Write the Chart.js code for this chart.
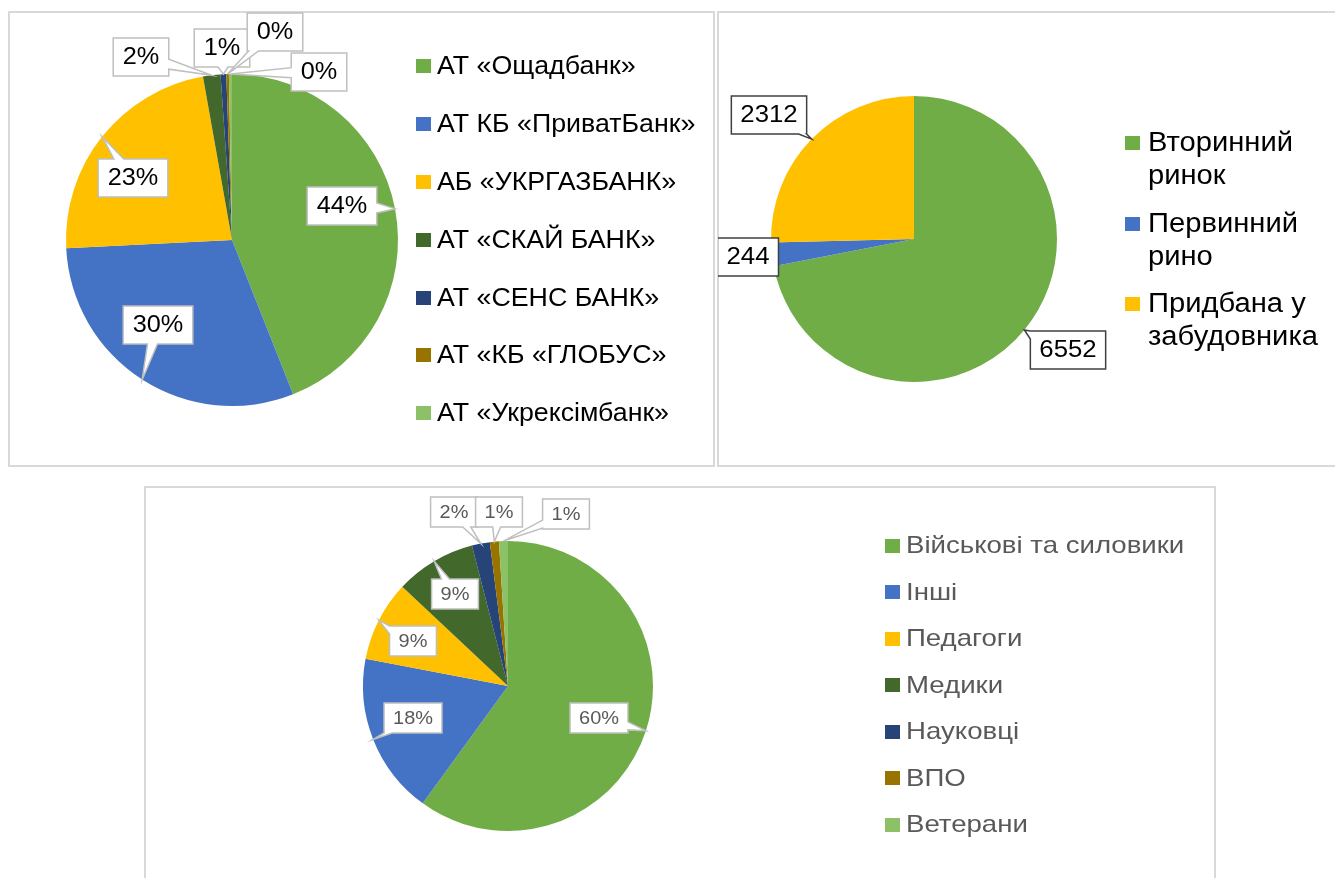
<!DOCTYPE html>
<html lang="uk">
<head>
<meta charset="utf-8">
<title>Три кругові діаграми</title>
<script src="https://cdn.jsdelivr.net/npm/chart.js@4.4.1/dist/chart.umd.min.js"></script>
<style>
  html, body { margin: 0; padding: 0; background: #fff; }
  body { width: 1335px; height: 878px; overflow: hidden; position: relative;
         font-family: Arial, 'Liberation Sans', sans-serif; }
  .panel { position: absolute; box-sizing: border-box; border: 2px solid #d9d9d9; }
  canvas { position: absolute; }
  .legend { position: absolute; white-space: nowrap; }
  .legend .row { position: relative; }
  .legend .key { position: absolute; left: 0; width: 15px; height: 14px; }
  .legend .txt { display: inline-block; vertical-align: top; transform-origin: 0 0; }
</style>
</head>
<body>

<div class="panel" style="left:8px;top:11px;width:707px;height:456px"></div>
<div class="panel" style="left:717px;top:11px;width:640px;height:456px"></div>
<div class="panel" style="left:144px;top:486px;width:1072px;height:420px"></div>

<canvas id="banks"></canvas>
<canvas id="market"></canvas>
<canvas id="groups"></canvas>

<div class="legend" id="banksLegend"></div>
<div class="legend" id="marketLegend"></div>
<div class="legend" id="groupsLegend"></div>

<script>
'use strict';

/* ── Дані ── */
const bankLabels = ['АТ «Ощадбанк»', 'АТ КБ «ПриватБанк»', 'АБ «УКРГАЗБАНК»', 'АТ «СКАЙ БАНК»',
                    'АТ «СЕНС БАНК»', 'АТ «КБ «ГЛОБУС»', 'АТ «Укрексімбанк»'];
const bankShares = [44.0, 30.2, 23.0, 1.7, 0.55, 0.25, 0.3];

const marketLabels = ['Вторинний ринок', 'Первинний рино', 'Придбана у забудовника'];
const marketValues = [6552, 244, 2312];

const groupLabels = ['Військові та силовики', 'Інші', 'Педагоги', 'Медики', 'Науковці', 'ВПО', 'Ветерани'];
const groupShares = [60, 18, 9, 9, 2, 1, 1];

const PALETTE = ['#70AD47', '#4472C4', '#FFC000', '#43682B', '#264478', '#997300', '#8CC168'];

/* ── Розмітка (центр і радіус круга, зсуви виносок від центру) ── */
const LAYOUT = {
  banks:  { box: [9, 12, 704, 453],  cx: 232, cy: 240, r: 166 },
  market: { box: [718, 12, 617, 453], cx: 914, cy: 239, r: 143 },
  groups: { box: [145, 487, 1069, 391], cx: 508, cy: 686, r: 145 }
};

const FONT = "Arial, 'Liberation Sans', sans-serif";
const pct = (v, total) => Math.round(v / total * 100) + '%';

/* ── Виноски-підписи у стилі Excel ── */
function calloutPath(ctx, L, T, R, B, ax, ay, base) {
  const cx = (L + R) / 2, cy = (T + B) / 2, hw = (R - L) / 2, hh = (B - T) / 2;
  const dx = ax - cx, dy = ay - cy;
  const clamp = (v, lo, hi) => Math.max(lo, Math.min(hi, v));
  let side = null;
  if (Math.abs(dx) > hw || Math.abs(dy) > hh) {
    side = Math.abs(dx) / hw > Math.abs(dy) / hh ? (dx > 0 ? 'R' : 'L') : (dy > 0 ? 'B' : 'T');
  }
  const b = base / 2;
  ctx.beginPath();
  ctx.moveTo(L, T);
  if (side === 'T') {
    const ix = clamp(cx + dx * hh / Math.abs(dy), L + b, R - b);
    ctx.lineTo(ix - b, T); ctx.lineTo(ax, ay); ctx.lineTo(ix + b, T);
  }
  ctx.lineTo(R, T);
  if (side === 'R') {
    const iy = clamp(cy + dy * hw / Math.abs(dx), T + b, B - b);
    ctx.lineTo(R, iy - b); ctx.lineTo(ax, ay); ctx.lineTo(R, iy + b);
  }
  ctx.lineTo(R, B);
  if (side === 'B') {
    const ix = clamp(cx + dx * hh / Math.abs(dy), L + b, R - b);
    ctx.lineTo(ix + b, B); ctx.lineTo(ax, ay); ctx.lineTo(ix - b, B);
  }
  ctx.lineTo(L, B);
  if (side === 'L') {
    const iy = clamp(cy + dy * hw / Math.abs(dx), T + b, B - b);
    ctx.lineTo(L, iy + b); ctx.lineTo(ax, ay); ctx.lineTo(L, iy - b);
  }
  ctx.closePath();
}

const calloutPlugin = {
  id: 'callouts',
  afterDatasetsDraw(chart, args, o) {
    const ctx = chart.ctx;
    const values = chart.data.datasets[0].data;
    const total = values.reduce((s, v) => s + v, 0);
    ctx.save();
    ctx.font = o.font;
    ctx.textAlign = 'center';
    ctx.textBaseline = 'middle';
    chart.getDatasetMeta(0).data.forEach((arc, i) => {
      const p = arc.getProps(['x', 'y', 'startAngle', 'endAngle', 'outerRadius'], true);
      const mid = (p.startAngle + p.endAngle) / 2;
      const ax = p.x + Math.cos(mid) * p.outerRadius;
      const ay = p.y + Math.sin(mid) * p.outerRadius;
      const text = o.format(values[i], total);
      const w = ctx.measureText(text).width * o.scaleX + 2 * o.padX;
      const bx = p.x + o.offsets[i][0], by = p.y + o.offsets[i][1];
      calloutPath(ctx, bx - w / 2, by - o.height / 2, bx + w / 2, by + o.height / 2, ax, ay, o.tail);
      ctx.fillStyle = '#fff';
      ctx.fill();
      ctx.lineWidth = o.lineWidth;
      ctx.strokeStyle = o.border;
      ctx.stroke();
      ctx.save();
      ctx.translate(bx, by + 1);
      ctx.scale(o.scaleX, 1);
      ctx.fillStyle = o.color;
      ctx.fillText(text, 0, 0);
      ctx.restore();
    });
    ctx.restore();
  }
};

function makePie(id, labels, values, colors, callouts) {
  const cfg = LAYOUT[id];
  const [x0, y0, w, h] = cfg.box;
  const canvas = document.getElementById(id);
  canvas.width = w;
  canvas.height = h;
  canvas.style.left = x0 + 'px';
  canvas.style.top = y0 + 'px';
  const cx = cfg.cx - x0, cy = cfg.cy - y0, r = cfg.r;

  return new Chart(canvas, {
    type: 'pie',
    data: {
      labels,
      datasets: [{
        data: values,
        backgroundColor: colors,
        borderWidth: 0,
        hoverOffset: 0,
        offset: 0
      }]
    },
    options: {
      responsive: false,
      animation: false,
      devicePixelRatio: 1,
      layout: { padding: { left: cx - r, top: cy - r, right: w - cx - r, bottom: h - cy - r } },
      plugins: {
        legend: { display: false },
        tooltip: { enabled: false },
        callouts
      }
    },
    plugins: [calloutPlugin]
  });
}

/* ── HTML-легенди ── */
function renderLegend(elId, labels, colors, opt) {
  const el = document.getElementById(elId);
  el.style.left = opt.x + 'px';
  el.style.top = opt.y + 'px';
  el.style.font = opt.font;
  el.style.color = opt.color;
  labels.forEach((lab, i) => {
    const row = document.createElement('div');
    row.className = 'row';
    row.style.height = opt.rowH + 'px';
    row.style.lineHeight = opt.lineH + 'px';
    row.style.paddingLeft = opt.textX + 'px';
    const key = document.createElement('span');
    key.className = 'key';
    key.style.background = colors[i];
    key.style.top = opt.keyY + 'px';
    const txt = document.createElement('span');
    txt.className = 'txt';
    txt.style.transform = 'scaleX(' + opt.scaleX + ')';
    if (opt.wrap) { txt.style.whiteSpace = 'normal'; txt.style.width = opt.wrap + 'px'; }
    txt.textContent = lab;
    row.appendChild(key);
    row.appendChild(txt);
    el.appendChild(row);
  });
}

Chart.defaults.font.family = FONT;

makePie('banks', bankLabels, bankShares, PALETTE, {
  font: '23px ' + FONT, color: '#000', border: '#bfbfbf', scaleX: 1.1,
  lineWidth: 1.5, padX: 9.5, height: 38, tail: 10, format: pct,
  offsets: [[110, -34], [-74, 85], [-99, -62], [-91, -183], [-10, -192], [43, -208], [87, -168]]
});

makePie('market', marketLabels, marketValues, PALETTE.slice(0, 3), {
  font: '23px ' + FONT, color: '#000', border: '#404040', scaleX: 1.12,
  lineWidth: 1.5, padX: 9, height: 38, tail: 8, format: v => String(v),
  offsets: [[154, 111], [-166, 18], [-145, -124]]
});

makePie('groups', groupLabels, groupShares, PALETTE, {
  font: '19px ' + FONT, color: '#595959', border: '#bfbfbf', scaleX: 1.05,
  lineWidth: 1.5, padX: 9, height: 30, tail: 8, format: pct,
  offsets: [[91, 32], [-95, 32], [-95, -45], [-53, -92], [-54, -174], [-9, -174], [58, -172]]
});

renderLegend('banksLegend', bankLabels, PALETTE, {
  x: 416, y: 37.4, font: '25px ' + FONT, color: '#000', scaleX: 1.07,
  rowH: 57.8, lineH: 57.8, textX: 21, keyY: 22
});
renderLegend('marketLegend', marketLabels, PALETTE.slice(0, 3), {
  x: 1125, y: 126, font: '27px ' + FONT, color: '#000', scaleX: 1.08,
  rowH: 80.5, lineH: 33, textX: 23, keyY: 10, wrap: 180
});
renderLegend('groupsLegend', groupLabels, PALETTE, {
  x: 885, y: 522, font: '24px ' + FONT, color: '#595959', scaleX: 1.15,
  rowH: 46.5, lineH: 46.5, textX: 21, keyY: 16.5
});
</script>
</body>
</html>
